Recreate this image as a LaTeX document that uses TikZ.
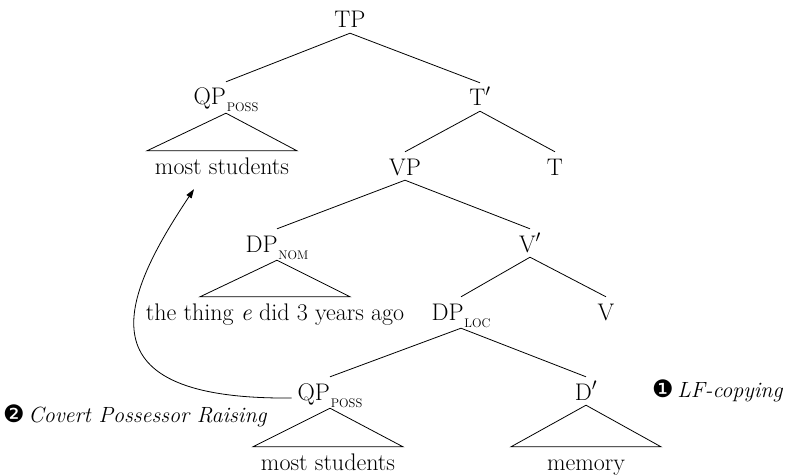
\documentclass[tikz,border=0pt]{standalone}
\usepackage{fontspec}
\newfontfamily\dingfont{DejaVu Sans}
\usetikzlibrary{arrows.meta}

% lowered small-capital subscript on a category label
\newcommand\lowtag[1]{\kern0.8pt\raisebox{-7pt}{\fontsize{12.5}{13}\selectfont #1}}

\tikzset{
  cat/.style={inner sep=0pt, anchor=base, text height=23pt, text depth=5pt,
              font=\fontsize{24}{28}\selectfont},
  catsub/.style={cat, text depth=8pt},
  leaf/.style={inner sep=0pt, anchor=base, text height=23pt, text depth=5pt,
               font=\fontsize{24}{28}\selectfont},
  branch/.style={line width=0.8pt},
  note/.style={inner sep=0pt, anchor=base west, font=\fontsize{22}{26}\selectfont\itshape},
  move/.style={line width=0.8pt, -{Triangle[length=9pt,width=6pt]}}
}

\begin{document}
\begin{tikzpicture}[x=1pt, y=-1pt]
\useasboundingbox (0,0) rectangle (789,476);

% categories
\node[cat]    (tp)    at (350,28)  {TP};
\node[catsub] (qpa)   at (226,105) {QP\lowtag{POSS}};
\node[cat]    (tbar)  at (480,106) {T$'$};
\node[cat]    (vp)    at (405,175) {VP};
\node[cat]    (t)     at (555,175) {T};
\node[catsub] (dpnom) at (277,252) {DP\lowtag{NOM}};
\node[cat]    (vbar)  at (530,252) {V$'$};
\node[catsub] (dploc) at (461,320) {DP\lowtag{LOC}};
\node[cat]    (v)     at (606,320) {V};
\node[catsub] (qpb)   at (330,400) {QP\lowtag{POSS}};
\node[cat]    (dbar)  at (586,400) {D$'$};

% terminal strings under roofs
\node[leaf] (la) at (222,174) {most students};
\node[leaf] (lb) at (275,320) {the thing \textit{e} did 3 years ago};
\node[leaf] (lc) at (328,470) {most students};
\node[leaf] (ld) at (586,470) {memory};

% branches
\draw[branch] (tp.south)   -- (qpa.north);
\draw[branch] (tp.south)   -- (tbar.north);
\draw[branch] (tbar.south) -- (vp.north);
\draw[branch] (tbar.south) -- (t.north);
\draw[branch] (vp.south)   -- (dpnom.north);
\draw[branch] (vp.south)   -- (vbar.north);
\draw[branch] (vbar.south) -- (dploc.north);
\draw[branch] (vbar.south) -- (v.north);
\draw[branch] (dploc.south) -- (qpb.north);
\draw[branch] (dploc.south) -- (dbar.north);

% roofs
\draw[branch] (qpa.south)   -- ([xshift=-75pt]la.north) -- ([xshift=75pt]la.north) -- cycle;
\draw[branch] (dpnom.south) -- ([xshift=-75pt]lb.north) -- ([xshift=75pt]lb.north) -- cycle;
\draw[branch] (qpb.south)   -- ([xshift=-75pt]lc.north) -- ([xshift=75pt]lc.north) -- cycle;
\draw[branch] (dbar.south)  -- ([xshift=-75pt]ld.north) -- ([xshift=75pt]ld.north) -- cycle;

% covert movement of the possessor
\coordinate (mvfrom) at ([shift={(-6pt,2pt)}]qpb.base west);
\coordinate (mvto)   at ([shift={(-28pt,-10pt)}]la.south);
\draw[move] (mvfrom) .. controls (80,400) and (120,300) .. (mvto);

% step annotations
\node[note] (stepone) at (652,397) {{\dingfont\fontsize{24}{26}\selectfont ❶}\,LF-copying};
\node[note] (steptwo) at (3,422)   {{\dingfont\fontsize{24}{26}\selectfont ❷}\,Covert Possessor Raising};
\end{tikzpicture}
\end{document}
